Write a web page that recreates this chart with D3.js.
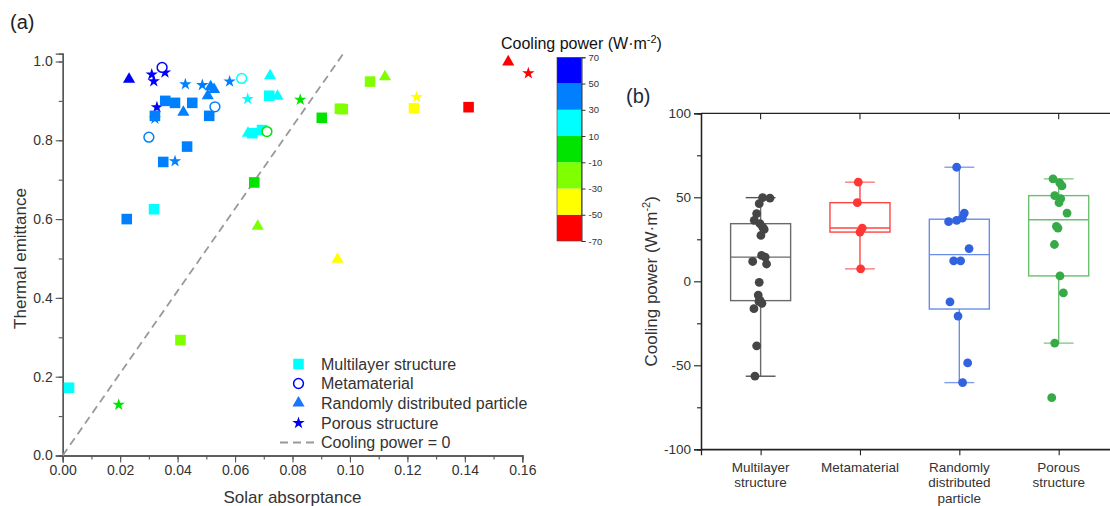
<!DOCTYPE html>
<html>
<head>
<meta charset="utf-8">
<script src="https://cdn.jsdelivr.net/npm/d3@7"></script>
<style>
  body { margin: 0; background: #fff; }
  svg { display: block; font-family: Arial, "Liberation Sans", sans-serif; }
</style>
</head>
<body>
<svg id="chart" width="1110" height="506"></svg>
<script>
// Each row: [solar absorptance, thermal emittance, cooling power (W·m-2), box-plot jitter (fraction of a category step)]
const multilayer = [
  [0.0357, 0.900, 49.8, 0.020], [0.0391, 0.895, 49.5, 0.094], [0.0451, 0.895, 46.2, -0.014],
  [0.0321, 0.862, 40.3, -0.040], [0.0510, 0.862, 36.3, -0.064], [0.0433, 0.784, 34.3, -0.007],
  [0.0350, 0.745, 32.3, 0.020], [0.0223, 0.600, 30.9, 0.036], [0.0719, 0.913, 27.3, 0.003],
  [0.0660, 0.818, 15.4, 0.010], [0.0694, 0.826, 14.4, 0.046], [0.0318, 0.625, 11.8, -0.080],
  [0.0022, 0.172, 10.3, 0.060], [0.0902, 0.857, -0.6, -0.014], [0.0667, 0.693, -8.2, -0.024],
  [0.1070, 0.949, -11.5, -0.004], [0.0965, 0.880, -12.0, -0.017], [0.0975, 0.879, -13.1, 0.013],
  [0.0410, 0.293, -16.3, -0.067], [0.1223, 0.881, -38.4, -0.040], [0.1413, 0.884, -56.5, -0.057]
];
const metamaterial = [
  [0.0346, 0.985, 59.0, -0.017], [0.0530, 0.885, 46.8, -0.027], [0.0300, 0.808, 31.7, 0.023],
  [0.0623, 0.957, 29.3, 0.000], [0.0711, 0.822, 7.4, 0.007]
];
const randomParticle = [
  [0.0231, 0.955, 67.9, -0.027], [0.0515, 0.936, 40.6, 0.050], [0.0527, 0.929, 37.6, 0.030],
  [0.0505, 0.913, 36.3, -0.027], [0.0420, 0.871, 35.5, -0.108], [0.0722, 0.964, 19.5, 0.098],
  [0.0748, 0.912, 12.2, -0.057], [0.0645, 0.818, 12.2, 0.013], [0.1122, 0.961, -12.3, -0.094],
  [0.0679, 0.582, -20.7, -0.013], [0.0957, 0.498, -48.6, 0.084], [0.1551, 0.999, -60.3, 0.033]
];
const porous = [
  [0.0356, 0.972, 61.0, -0.057], [0.0310, 0.967, 58.6, 0.010], [0.0317, 0.950, 56.8, 0.033],
  [0.0328, 0.884, 51.0, -0.040], [0.0581, 0.949, 49.2, 0.020], [0.0427, 0.942, 46.8, 0.003],
  [0.0486, 0.940, 40.6, 0.084], [0.0321, 0.855, 32.7, -0.023], [0.0391, 0.747, 31.7, -0.007],
  [0.0644, 0.905, 21.9, -0.043], [0.0827, 0.903, 3.2, 0.013], [0.0195, 0.129, -6.9, 0.047],
  [0.1232, 0.910, -36.8, -0.040], [0.1621, 0.970, -69.3, -0.070]
];

const structureNames = ["Multilayer structure", "Metamaterial", "Randomly distributed particle", "Porous structure"];
const categoryLines = [["Multilayer", "structure"], ["Metamaterial"], ["Randomly", "distributed", "particle"], ["Porous", "structure"]];
const coolingBins = [-50, -30, -10, 10, 30, 50];
const coolingColors = ["#ff0000", "#ffff00", "#80ff00", "#00e400", "#00ffff", "#0080ff", "#0000ff"];
const colorbarTicks = [70, 50, 30, 10, -10, -30, -50, -70];
const xTicksA = [0, 0.02, 0.04, 0.06, 0.08, 0.10, 0.12, 0.14, 0.16];
const yTicksA = [0, 0.2, 0.4, 0.6, 0.8, 1.0];
const yTicksB = [-100, -50, 0, 50, 100];
const zeroCoolingLine = [[0, 0], [0.0977, 1.02]];

const svg = d3.select("#chart");
const textColor = "#333";
const axisColor = "#555";
const plainInt = d => String(d);   // keeps an ASCII hyphen for negatives

// ---------- panel (a): emittance vs absorptance ----------
const xA = d3.scaleLinear().domain([0, 0.16]).range([62.7, 522.3]);
const yA = d3.scaleLinear().domain([0, 1.02]).range([455.5, 53.6]);
const coolColor = d3.scaleThreshold().domain(coolingBins).range(coolingColors);

const gA = svg.append("g");

function styleAxis(g) {
  g.select(".domain").attr("stroke", axisColor).attr("stroke-width", 1.3);
  g.selectAll(".tick line").attr("stroke", axisColor).attr("stroke-width", 1.1);
  g.selectAll(".tick text").attr("fill", textColor).attr("font-size", 14);
}

gA.append("g").attr("transform", `translate(0,${yA(0)})`)
  .call(d3.axisBottom(xA).tickValues(d3.range(0, 0.1601, 0.01)).tickSize(4).tickFormat(""))
  .call(styleAxis);
gA.append("g").attr("transform", `translate(0,${yA(0)})`)
  .call(d3.axisBottom(xA).tickValues(xTicksA).tickSize(7).tickPadding(3).tickFormat(d3.format(".2f")))
  .call(styleAxis);
gA.append("g").attr("transform", `translate(${xA(0)},0)`)
  .call(d3.axisLeft(yA).tickValues(d3.range(0, 1.001, 0.1)).tickSize(4).tickFormat(""))
  .call(styleAxis);
gA.append("g").attr("transform", `translate(${xA(0)},0)`)
  .call(d3.axisLeft(yA).tickValues(yTicksA).tickSize(7).tickPadding(3).tickFormat(d3.format(".1f")))
  .call(styleAxis);

gA.append("text").attr("x", (xA(0) + xA(0.16)) / 2).attr("y", 503)
  .attr("text-anchor", "middle").attr("font-size", 17).attr("fill", textColor)
  .text("Solar absorptance");
gA.append("text").attr("transform", `translate(26,${yA(0.5)}) rotate(-90)`)
  .attr("text-anchor", "middle").attr("font-size", 17).attr("fill", textColor)
  .text("Thermal emittance");
svg.append("text").attr("x", 10).attr("y", 29).attr("font-size", 20).attr("fill", "#222").text("(a)");

// zero cooling power boundary
gA.append("path")
  .attr("d", d3.line().x(d => xA(d[0])).y(d => yA(d[1]))(zeroCoolingLine))
  .attr("fill", "none").attr("stroke", "#999").attr("stroke-width", 1.8).attr("stroke-dasharray", "8,5");

const sym = {
  square: d3.symbol().type(d3.symbolSquare).size(112),
  triangle: d3.symbol().type(d3.symbolTriangle).size(64),
  star: d3.symbol().type(d3.symbolStar).size(48)
};

function drawSymbols(data, gen) {
  gA.append("g").selectAll("path").data(data).join("path")
    .attr("transform", d => `translate(${xA(d[0])},${yA(d[1])})`)
    .attr("d", gen())
    .attr("fill", d => coolColor(d[2]));
}
drawSymbols(porous, sym.star);
drawSymbols(randomParticle, sym.triangle);
drawSymbols(multilayer, sym.square);
gA.append("g").selectAll("circle").data(metamaterial).join("circle")
  .attr("cx", d => xA(d[0])).attr("cy", d => yA(d[1])).attr("r", 4.9)
  .attr("fill", "#fff").attr("stroke", d => coolColor(d[2])).attr("stroke-width", 1.5);

// legend
const legend = gA.append("g");
const legendRows = [364, 383.5, 403, 423, 442.5];
const legendX = 298.5, legendTextX = 321;
legend.append("path").attr("transform", `translate(${legendX},${legendRows[0]})`).attr("d", sym.square()).attr("fill", "#00ffff");
legend.append("circle").attr("cx", legendX).attr("cy", legendRows[1]).attr("r", 4.9)
  .attr("fill", "#fff").attr("stroke", "#0000ff").attr("stroke-width", 1.5);
legend.append("path").attr("transform", `translate(${legendX},${legendRows[2]})`).attr("d", sym.triangle()).attr("fill", "#1a75ff");
legend.append("path").attr("transform", `translate(${legendX},${legendRows[3]})`).attr("d", sym.star()).attr("fill", "#0000ee");
legend.append("line").attr("x1", 280).attr("x2", 317).attr("y1", legendRows[4]).attr("y2", legendRows[4])
  .attr("stroke", "#999").attr("stroke-width", 1.8).attr("stroke-dasharray", "8,5");
structureNames.concat(["Cooling power = 0"]).forEach((t, i) => {
  legend.append("text").attr("x", legendTextX).attr("y", legendRows[i]).attr("dy", "0.36em")
    .attr("font-size", 16).attr("fill", textColor).text(t);
});

// colour bar
const cbY = d3.scaleLinear().domain([-70, 70]).range([241, 57.3]);
const cbX0 = 557, cbX1 = 581.5;
const cb = svg.append("g");
const bounds = [-70].concat(coolingBins, [70]);
cb.selectAll("rect").data(coolingColors).join("rect")
  .attr("x", cbX0).attr("width", cbX1 - cbX0)
  .attr("y", (d, i) => cbY(bounds[i + 1])).attr("height", (d, i) => cbY(bounds[i]) - cbY(bounds[i + 1]))
  .attr("fill", d => d);
cb.append("rect").attr("x", cbX0).attr("y", cbY(70)).attr("width", cbX1 - cbX0).attr("height", cbY(-70) - cbY(70))
  .attr("fill", "none").attr("stroke", "#444").attr("stroke-width", 0.6);
cb.append("g").attr("transform", `translate(${cbX1},0)`)
  .call(d3.axisRight(cbY).tickValues(colorbarTicks).tickSize(4).tickPadding(3).tickFormat(plainInt))
  .call(g => {
    g.select(".domain").attr("stroke", "#333").attr("stroke-width", 1);
    g.selectAll(".tick line").attr("stroke", "#333");
    g.selectAll(".tick text").attr("fill", textColor).attr("font-size", 9.5);
  });
const cbTitle = cb.append("text").attr("x", 501).attr("y", 49).attr("font-size", 16).attr("fill", "#111");
cbTitle.append("tspan").text("Cooling power (W·m");
cbTitle.append("tspan").attr("font-size", 11).attr("dy", -6).text("-2");
cbTitle.append("tspan").attr("dy", 6).text(")");

// ---------- panel (b): cooling power box plots ----------
const groups = [multilayer, metamaterial, randomParticle, porous];
const boxStyles = [
  { dot: "#454545", box: "#6a6a6a", cap: "#555" },
  { dot: "#ff3636", box: "#ff4444", cap: "#ff7a7a" },
  { dot: "#3163e0", box: "#6a8de8", cap: "#7f9ef0" },
  { dot: "#36a948", box: "#6cbf6e", cap: "#86cc88" }
];
const xB = d3.scalePoint().domain(d3.range(4)).range([701, 1118.3]).padding(0.6);
const stepB = xB.step();
const yB = d3.scaleLinear().domain([-100, 100]).range([449.3, 113.3]);
const gB = svg.append("g");

// frame
gB.append("line").attr("x1", 701).attr("x2", 1118.3).attr("y1", yB(100)).attr("y2", yB(100)).attr("stroke", "#222").attr("stroke-width", 1.3);
gB.append("line").attr("x1", 1118.3).attr("x2", 1118.3).attr("y1", yB(100)).attr("y2", yB(-100)).attr("stroke", "#222").attr("stroke-width", 1.3);
gB.selectAll(".toptick").data(d3.range(4)).join("line")
  .attr("x1", d => xB(d)).attr("x2", d => xB(d)).attr("y1", yB(100)).attr("y2", yB(100) + 6)
  .attr("stroke", "#222").attr("stroke-width", 1.1);

function styleAxisB(g) {
  g.select(".domain").attr("stroke", "#222").attr("stroke-width", 1.3);
  g.selectAll(".tick line").attr("stroke", "#222").attr("stroke-width", 1.1);
  g.selectAll(".tick text").attr("fill", textColor).attr("font-size", 13.5);
}
gB.append("g").attr("transform", "translate(701,0)")
  .call(d3.axisLeft(yB).tickValues([-75, -25, 25, 75]).tickSize(4).tickFormat(""))
  .call(styleAxisB);
gB.append("g").attr("transform", "translate(701,0)")
  .call(d3.axisLeft(yB).tickValues(yTicksB).tickSize(7).tickPadding(3).tickFormat(plainInt))
  .call(styleAxisB);
gB.append("g").attr("transform", `translate(0,${yB(-100)})`)
  .call(d3.axisBottom(xB).tickSize(6).tickFormat(""))
  .call(styleAxisB);
gB.append("line").attr("x1", 701).attr("x2", 1118.3).attr("y1", yB(-100)).attr("y2", yB(-100)).attr("stroke", "#222").attr("stroke-width", 1.3);

categoryLines.forEach((lines, i) => {
  const t = gB.append("text").attr("x", xB(i)).attr("y", 471.5).attr("text-anchor", "middle")
    .attr("font-size", 13.5).attr("fill", textColor);
  lines.forEach((l, j) => t.append("tspan").attr("x", xB(i)).attr("dy", j === 0 ? 0 : 15.5).text(l));
});

const yLabelB = gB.append("text").attr("transform", `translate(657,${yB(0)}) rotate(-90)`)
  .attr("text-anchor", "middle").attr("font-size", 17).attr("fill", textColor);
yLabelB.append("tspan").text("Cooling power (W·m");
yLabelB.append("tspan").attr("font-size", 11).attr("dy", -7).text("-2");
yLabelB.append("tspan").attr("dy", 7).text(")");
svg.append("text").attr("x", 626).attr("y", 103).attr("font-size", 20).attr("fill", "#1d2a44").text("(b)");

// Tukey hinges and 1.5 IQR whiskers
function boxStats(vals) {
  const s = vals.slice().sort(d3.ascending);
  const n = s.length, h = Math.ceil(n / 2);
  const q1 = d3.median(s.slice(0, h)), med = d3.median(s), q3 = d3.median(s.slice(n - h));
  const iqr = q3 - q1;
  const lo = d3.min(s.filter(v => v >= q1 - 1.5 * iqr));
  const hi = d3.max(s.filter(v => v <= q3 + 1.5 * iqr));
  return { q1, med, q3, lo, hi };
}

const boxHalf = 0.302 * stepB, capHalf = 0.15 * stepB;
groups.forEach((data, i) => {
  const st = boxStats(data.map(d => d[2]));
  const cx = xB(i), c = boxStyles[i];
  const g = gB.append("g");
  g.append("line").attr("x1", cx).attr("x2", cx).attr("y1", yB(st.hi)).attr("y2", yB(st.q3)).attr("stroke", c.box).attr("stroke-width", 1.4);
  g.append("line").attr("x1", cx).attr("x2", cx).attr("y1", yB(st.q1)).attr("y2", yB(st.lo)).attr("stroke", c.box).attr("stroke-width", 1.4);
  [st.hi, st.lo].forEach(v => g.append("line").attr("x1", cx - capHalf).attr("x2", cx + capHalf)
    .attr("y1", yB(v)).attr("y2", yB(v)).attr("stroke", c.cap).attr("stroke-width", 1.4));
  g.append("rect").attr("x", cx - boxHalf).attr("width", 2 * boxHalf)
    .attr("y", yB(st.q3)).attr("height", yB(st.q1) - yB(st.q3))
    .attr("fill", "none").attr("stroke", c.box).attr("stroke-width", 1.4);
  g.append("line").attr("x1", cx - boxHalf).attr("x2", cx + boxHalf).attr("y1", yB(st.med)).attr("y2", yB(st.med))
    .attr("stroke", c.box).attr("stroke-width", 1.4);
  g.selectAll("circle").data(data).join("circle")
    .attr("cx", d => cx + d[3] * stepB).attr("cy", d => yB(d[2])).attr("r", 4.4)
    .attr("fill", c.dot);
});
</script>
</body>
</html>
